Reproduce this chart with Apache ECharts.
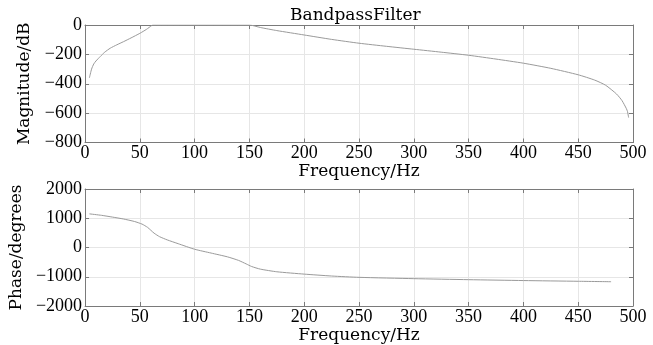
<!DOCTYPE html>
<html>
<head>
<meta charset="utf-8">
<script src="https://cdn.jsdelivr.net/npm/echarts@6/dist/echarts.min.js"></script>
<style>
  html, body { margin: 0; padding: 0; background: #fff; }
  #chart { width: 653px; height: 345px; }
</style>
</head>
<body>
<div id="chart"></div>
<script>
// magnitude response (dB)
const magFreq = [4, 6, 8, 10, 14, 18, 23, 29, 35, 42, 50, 56, 61, 62, 100, 150, 160, 175, 200, 225, 250, 275, 300, 325, 350, 375, 400, 425, 450, 465, 475, 485, 490, 494, 495, 496]
const magDb = [-360, -300, -265, -245, -214, -185, -158, -135, -114, -88, -57, -30, -3, 0, 0, 0, -17, -38, -68, -98, -124, -145, -165, -185, -206, -232, -260, -295, -339, -375, -410, -470, -515, -570, -590, -630]

// phase response (degrees)
const phaseFreq = [4, 15, 25, 35, 45, 52, 57, 60, 63, 68, 75, 85, 100, 115, 130, 140, 147, 152, 160, 175, 200, 225, 250, 300, 350, 400, 450, 480]
const phaseDeg = [1150, 1100, 1040, 975, 890, 800, 690, 590, 490, 370, 260, 130, -60, -190, -320, -440, -560, -650, -740, -830, -910, -975, -1020, -1065, -1100, -1130, -1155, -1170]

const freqTicks = { min: 0, max: 500, interval: 50 }
const magTicks = { min: -800, max: 0, interval: 200 }
const phaseTicks = { min: -2000, max: 2000, interval: 1000 }

const NAME_FONT = 'DejaVu Serif'
const TICK_FONT = 'Liberation Serif'
const axisColor = '#7a7a7a'
const gridColor = '#e6e6e6'
const lineColor = '#9a9a9a'

const fmt = v => String(v).replace('-', '\u2212')
const nameStyle = { color: '#000', fontFamily: NAME_FONT, fontSize: 17 }
const tickStyle = { color: '#000', fontFamily: TICK_FONT, fontSize: 18 }

function mainX(gridIndex) {
  return {
    type: 'value', gridIndex, position: 'bottom', ...freqTicks,
    name: 'Frequency/Hz', nameLocation: 'middle', nameGap: 19,
    nameTextStyle: nameStyle,
    axisLine: { show: true, onZero: false, lineStyle: { color: axisColor } },
    axisTick: { inside: true, length: 4, lineStyle: { color: axisColor } },
    axisLabel: { ...tickStyle, margin: 2, formatter: fmt },
    splitLine: { show: true, lineStyle: { color: gridColor } },
  }
}
function topX(gridIndex) {
  return {
    type: 'value', gridIndex, position: 'top', ...freqTicks,
    axisLine: { show: true, onZero: false, lineStyle: { color: axisColor } },
    axisTick: { inside: true, length: 4, lineStyle: { color: axisColor } },
    axisLabel: { show: false }, splitLine: { show: false },
  }
}
function mainY(gridIndex, ticks, name) {
  return {
    type: 'value', gridIndex, position: 'left', ...ticks,
    name, nameLocation: 'middle', nameGap: 52,
    nameTextStyle: nameStyle,
    axisLine: { show: true, onZero: false, lineStyle: { color: axisColor } },
    axisTick: { show: true, inside: true, length: 4, lineStyle: { color: axisColor } },
    axisLabel: { ...tickStyle, margin: 3, formatter: fmt },
    splitLine: { show: true, lineStyle: { color: gridColor } },
  }
}
function rightY(gridIndex, ticks) {
  return {
    type: 'value', gridIndex, position: 'right', ...ticks,
    axisLine: { show: true, onZero: false, lineStyle: { color: axisColor } },
    axisTick: { show: true, inside: true, length: 4, lineStyle: { color: axisColor } },
    axisLabel: { show: false }, splitLine: { show: false },
  }
}

const chart = echarts.init(document.getElementById('chart'), null, { renderer: 'canvas' })
chart.setOption({
  animation: false,
  backgroundColor: '#fff',
  title: {
    text: 'BandpassFilter', left: 285, top: 2,
    textStyle: { color: '#000', fontFamily: NAME_FONT, fontSize: 17, fontWeight: 'normal' },
  },
  grid: [
    { left: 85, right: 20, top: 25, height: 117.5 },
    { left: 85, right: 20, top: 189, height: 117 },
  ],
  xAxis: [mainX(0), topX(0), mainX(1), topX(1)],
  yAxis: [
    mainY(0, magTicks, 'Magnitude/dB'), rightY(0, magTicks),
    mainY(1, phaseTicks, 'Phase/degrees'), rightY(1, phaseTicks),
  ],
  series: [
    {
      type: 'line', xAxisIndex: 0, yAxisIndex: 0, symbol: 'none', smooth: 0.2,
      lineStyle: { color: lineColor, width: 1 },
      data: magFreq.map((f, i) => [f, magDb[i]]),
    },
    {
      type: 'line', xAxisIndex: 2, yAxisIndex: 2, symbol: 'none', smooth: 0.2,
      lineStyle: { color: lineColor, width: 1 },
      data: phaseFreq.map((f, i) => [f, phaseDeg[i]]),
    },
  ],
})
</script>
</body>
</html>
